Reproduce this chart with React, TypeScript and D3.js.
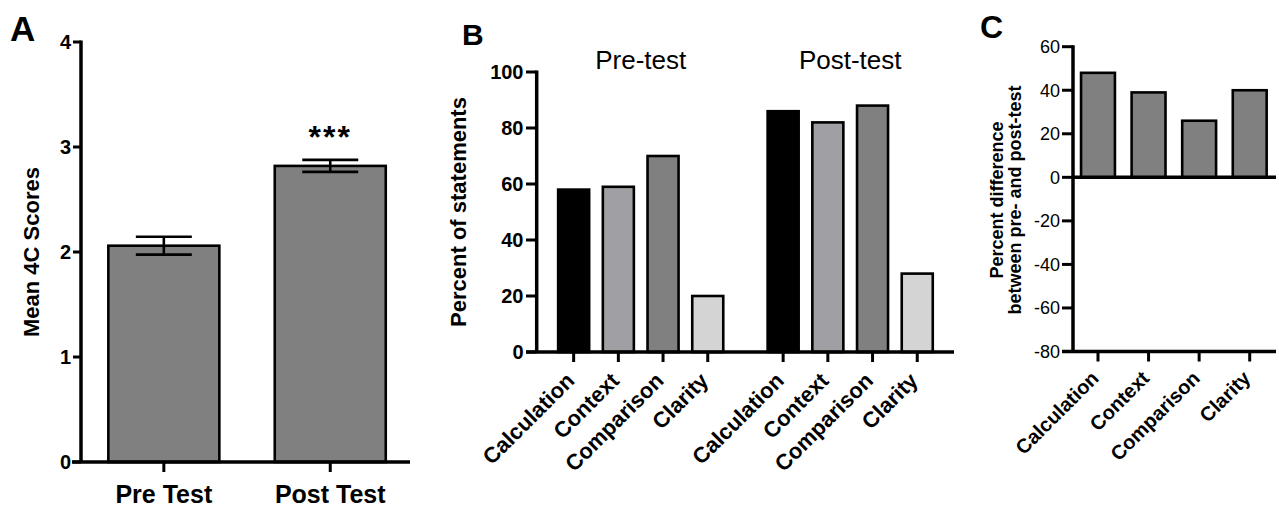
import React from "react";
import { scaleLinear, scaleBand } from "d3";

// panel A
const testLabels = ["Pre Test", "Post Test"];
const meanScores = [2.06, 2.82];
const scoreErrors = [0.085, 0.057];
const scoreTicks = [0, 1, 2, 3, 4];

// panel B
const categories = ["Calculation", "Context", "Comparison", "Clarity"];
const groups = ["Pre-test", "Post-test"];
const preTestValues = [58, 59, 70, 20];
const postTestValues = [86, 82, 88, 28];
const percentTicks = [0, 20, 40, 60, 80, 100];

// panel C
const differenceValues = [48, 39, 26, 40];
const differenceTicks = [-80, -60, -40, -20, 0, 20, 40, 60];

const categoryColors = ["#000000", "#a0a0a4", "#808080", "#d4d4d4"];
const FONT = "'Liberation Sans', Arial, Helvetica, sans-serif";

const PanelA = () => {
  const y = scaleLinear().domain([0, 4]).range([462, 42]);
  const x = scaleBand()
    .domain(testLabels)
    .range([81, 410])
    .paddingInner(0.333)
    .paddingOuter(0.155)
    .align(0.53);
  const capW = 28;
  return (
    <g>
      <text x={10} y={41} fontSize={35} fontWeight="bold">A</text>
      {testLabels.map((d, i) => {
        const cx = x(d)! + x.bandwidth() / 2;
        const hi = y(meanScores[i] + scoreErrors[i]);
        const lo = y(meanScores[i] - scoreErrors[i]);
        return (
          <g key={d}>
            <rect x={x(d)} y={y(meanScores[i])} width={x.bandwidth()} height={y(0) - y(meanScores[i])}
              fill="#808080" stroke="#000" strokeWidth={2.6} />
            <line x1={cx} x2={cx} y1={hi} y2={lo} stroke="#000" strokeWidth={2.6} />
            <line x1={cx - capW} x2={cx + capW} y1={hi} y2={hi} stroke="#000" strokeWidth={2.6} />
            <line x1={cx - capW} x2={cx + capW} y1={lo} y2={lo} stroke="#000" strokeWidth={2.6} />
            <line x1={cx} x2={cx} y1={y(0)} y2={y(0) + 10} stroke="#000" strokeWidth={3} />
            <text x={cx} y={503} textAnchor="middle" fontSize={25} fontWeight="bold">{d}</text>
          </g>
        );
      })}
      <text x={x("Post Test")! + x.bandwidth() / 2} y={148} textAnchor="middle" fontSize={32}
        fontWeight="bold" letterSpacing={2}>***</text>
      <line x1={81} x2={81} y1={y(4) - 1.5} y2={y(0)} stroke="#000" strokeWidth={3.5} />
      <line x1={72} x2={410} y1={y(0)} y2={y(0)} stroke="#000" strokeWidth={3.5} />
      {scoreTicks.map((t) => (
        <g key={t}>
          <line x1={73} x2={81} y1={y(t)} y2={y(t)} stroke="#000" strokeWidth={3} />
          <text x={71} y={y(t)} dy="0.36em" textAnchor="end" fontSize={20} fontWeight="bold">{t}</text>
        </g>
      ))}
      <text transform="translate(39,252) rotate(-90)" textAnchor="middle" fontSize={22} fontWeight="bold">
        Mean 4C Scores
      </text>
    </g>
  );
};

const PanelB = () => {
  const y = scaleLinear().domain([0, 100]).range([352, 72]);
  const outer = scaleBand().domain(groups).range([551.3, 939.6]).paddingInner(0.1465).paddingOuter(0);
  const inner = scaleBand().domain(categories).range([0, outer.bandwidth()]).paddingInner(0.306).paddingOuter(0.153);
  const series = [preTestValues, postTestValues];
  return (
    <g>
      <text x={462} y={45} fontSize={30} fontWeight="bold">B</text>
      {groups.map((g, gi) => (
        <g key={g}>
          <text x={outer(g)! + outer.bandwidth() / 2} y={69} textAnchor="middle" fontSize={26}>{g}</text>
          {categories.map((c, ci) => {
            const bx = outer(g)! + inner(c)!;
            const cx = bx + inner.bandwidth() / 2;
            const v = series[gi][ci];
            return (
              <g key={c}>
                <rect x={bx} y={y(v)} width={inner.bandwidth()} height={y(0) - y(v)}
                  fill={categoryColors[ci]} stroke="#000" strokeWidth={2.6} />
                <line x1={cx} x2={cx} y1={y(0)} y2={y(0) + 10} stroke="#000" strokeWidth={3} />
                <text transform={`translate(${cx + 2},${y(0) + 30}) rotate(-45)`} textAnchor="end"
                  fontSize={22} fontWeight="bold">{c}</text>
              </g>
            );
          })}
        </g>
      ))}
      <line x1={536.7} x2={536.7} y1={y(100) - 1.5} y2={y(0)} stroke="#000" strokeWidth={3.5} />
      <line x1={526} x2={954} y1={y(0)} y2={y(0)} stroke="#000" strokeWidth={3.5} />
      {percentTicks.map((t) => (
        <g key={t}>
          <line x1={526} x2={536.7} y1={y(t)} y2={y(t)} stroke="#000" strokeWidth={3} />
          <text x={523.5} y={y(t)} dy="0.36em" textAnchor="end" fontSize={20} fontWeight="bold">{t}</text>
        </g>
      ))}
      <text transform="translate(466,212) rotate(-90)" textAnchor="middle" fontSize={22} fontWeight="bold">
        Percent of statements
      </text>
    </g>
  );
};

const PanelC = () => {
  const y = scaleLinear().domain([-80, 60]).range([351.5, 46.7]);
  const x = scaleBand().domain(categories).range([1072.7, 1275]).paddingInner(0.33).paddingOuter(0.165);
  return (
    <g>
      <text x={980} y={38} fontSize={32} fontWeight="bold">C</text>
      {categories.map((c, i) => {
        const cx = x(c)! + x.bandwidth() / 2;
        const v = differenceValues[i];
        return (
          <g key={c}>
            <rect x={x(c)} y={y(v)} width={x.bandwidth()} height={y(0) - y(v)}
              fill="#808080" stroke="#000" strokeWidth={2.6} />
            <line x1={cx} x2={cx} y1={y(-80)} y2={y(-80) + 10} stroke="#000" strokeWidth={3} />
            <text transform={`translate(${cx + 2},${y(-80) + 28}) rotate(-45)`} textAnchor="end"
              fontSize={20} fontWeight="bold">{c}</text>
          </g>
        );
      })}
      <line x1={1073} x2={1073} y1={y(60) - 1.5} y2={y(-80)} stroke="#000" strokeWidth={3.5} />
      <line x1={1073} x2={1276} y1={y(0)} y2={y(0)} stroke="#000" strokeWidth={3.5} />
      <line x1={1062} x2={1276} y1={y(-80)} y2={y(-80)} stroke="#000" strokeWidth={3.5} />
      {differenceTicks.map((t) => (
        <g key={t}>
          <line x1={1062} x2={1073} y1={y(t)} y2={y(t)} stroke="#000" strokeWidth={3} />
          <text x={1060} y={y(t)} dy="0.36em" textAnchor="end" fontSize={18}>{t}</text>
        </g>
      ))}
      <text transform="translate(1003,200) rotate(-90)" textAnchor="middle" fontSize={18} fontWeight="bold">
        Percent difference
      </text>
      <text transform="translate(1021,200) rotate(-90)" textAnchor="middle" fontSize={18} fontWeight="bold">
        between pre- and post-test
      </text>
    </g>
  );
};

export default function App() {
  return (
    <svg width={1279} height={507} style={{ position: "absolute", left: 0, top: 0, background: "#fff" }}
      fontFamily={FONT}>
      <rect width={1279} height={507} fill="#fff" />
      <PanelA />
      <PanelB />
      <PanelC />
    </svg>
  );
}
